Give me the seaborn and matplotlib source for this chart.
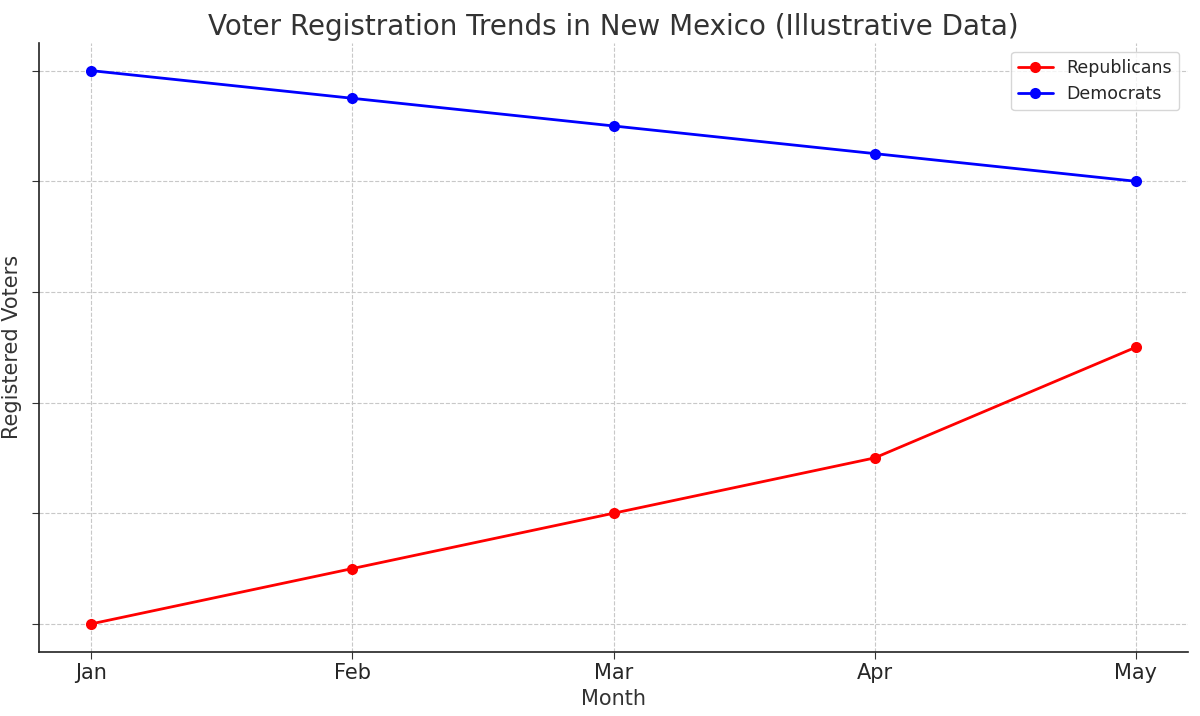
import matplotlib
matplotlib.use('Agg')
import matplotlib.pyplot as plt
import seaborn as sns
import pandas as pd

# data (arbitrary units, y labels hidden in original)
months = ['Jan', 'Feb', 'Mar', 'Apr', 'May']
republicans = [0, 0.5, 1.0, 1.5, 2.5]
democrats = [5.0, 4.75, 4.5, 4.25, 4.0]

df = pd.DataFrame({'Month': months, 'Republicans': republicans, 'Democrats': democrats})
long = df.melt(id_vars='Month', var_name='Party', value_name='Registered Voters')

sns.set_style('whitegrid', {'grid.linestyle': '--', 'grid.color': '#c8c8c8'})
fig, ax = plt.subplots(figsize=(12, 7.16), dpi=100)
fig.subplots_adjust(left=0.0325, right=0.99, top=0.94, bottom=0.09)

sns.lineplot(data=long, x='Month', y='Registered Voters', hue='Party',
             palette={'Republicans': 'red', 'Democrats': 'blue'},
             marker='o', markersize=8, markeredgewidth=0, linewidth=2, ax=ax)

ax.set_ylim(-0.25, 5.25)
ax.set_xlim(-0.2, 4.2)
ax.set_yticks([0, 1, 2, 3, 4, 5])
ax.set_yticklabels([])
ax.tick_params(axis='y', length=5, left=True, color='#333333')
ax.tick_params(axis='x', labelsize=15, length=5, bottom=True, color='#333333')
ax.set_xlabel('Month', fontsize=15, color='#333333')
ax.set_ylabel('Registered Voters', fontsize=15, color='#333333')
ax.set_title('Voter Registration Trends in New Mexico (Illustrative Data)', fontsize=20, color='#333333')
for s in ['top', 'right']:
    ax.spines[s].set_visible(False)
for s in ['left', 'bottom']:
    ax.spines[s].set_color('#222222')
    ax.spines[s].set_linewidth(1.2)
ax.legend(title=None, loc='upper right', fontsize=12.5)

fig.savefig('out.png')
